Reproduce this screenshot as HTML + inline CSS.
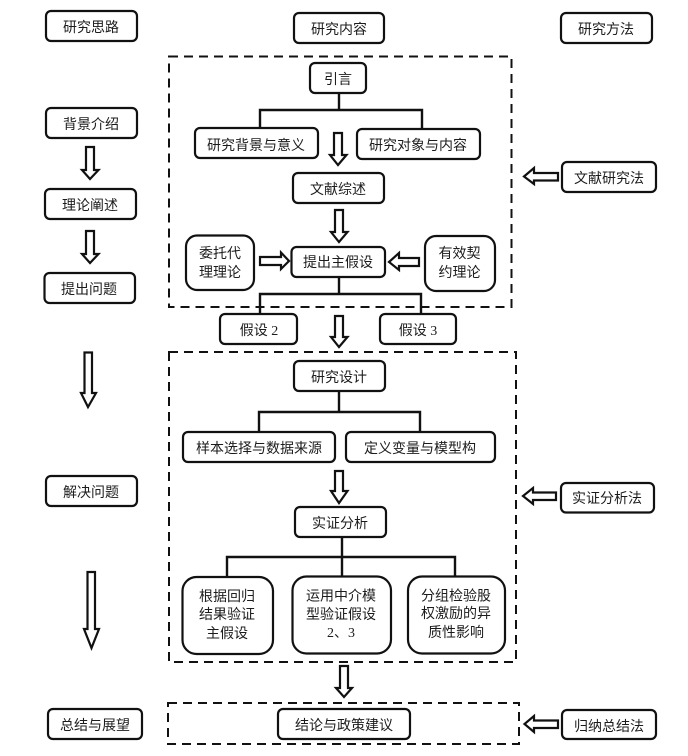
<!DOCTYPE html>
<html lang="zh">
<head>
<meta charset="utf-8">
<title>研究框架</title>
<style>
html,body{margin:0;padding:0;background:#fff;width:688px;height:756px;overflow:hidden}
svg{display:block}
.b rect{fill:#fff;stroke:#111;stroke-width:2.2}
.d rect{fill:none;stroke:#111;stroke-width:2;stroke-dasharray:9 6}
.l path{fill:none;stroke:#111;stroke-width:2.4}
.a polygon{fill:#fff;stroke:#111;stroke-width:2.2;stroke-linejoin:miter}
text{font-family:"Liberation Serif","Noto Sans CJK SC",sans-serif;font-size:14px;font-weight:400;fill:#1c1c1c;text-anchor:middle}
</style>
</head>
<body>
<svg width="688" height="756" viewBox="0 0 688 756" xmlns="http://www.w3.org/2000/svg">
<rect width="688" height="756" fill="#fff"/>
<g class="d">
<rect x="169" y="56.500" width="342.500" height="250.500"/>
<rect x="169" y="352" width="347" height="310"/>
<rect x="168" y="703" width="351" height="41"/>
</g>
<g class="l">
<path d="M339 93V110M260 128V110H422V129"/>
<path d="M339 277V294M260 314V294H421V314"/>
<path d="M339 391V412M259 432V412H420V432"/>
<path d="M342 537V577M227 577V557H455V577"/>
</g>
<g class="b">
<rect x="46" y="11" width="91" height="30" rx="5"/>
<rect x="46" y="108" width="91" height="30" rx="5"/>
<rect x="45" y="189" width="91" height="30" rx="5"/>
<rect x="44.500" y="273" width="90.500" height="30" rx="5"/>
<rect x="46" y="476" width="91" height="30" rx="5"/>
<rect x="48" y="709" width="94" height="30" rx="5"/>
<rect x="294" y="13" width="90" height="30" rx="5"/>
<rect x="310" y="63" width="56" height="30" rx="5"/>
<rect x="195" y="128" width="123" height="30" rx="5"/>
<rect x="357" y="129" width="123" height="30" rx="5"/>
<rect x="293" y="173" width="91" height="30" rx="5"/>
<rect x="291.500" y="247" width="93.500" height="30" rx="5"/>
<rect x="186" y="235.500" width="68" height="54.500" rx="11"/>
<rect x="425" y="236" width="70" height="55" rx="11"/>
<rect x="220" y="314" width="77" height="30" rx="5"/>
<rect x="380" y="314" width="76" height="30" rx="5"/>
<rect x="561" y="13" width="91" height="30" rx="5"/>
<rect x="562" y="162" width="94" height="30" rx="5"/>
<rect x="561" y="483" width="93" height="29.500" rx="5"/>
<rect x="562" y="710" width="94" height="29" rx="5"/>
<rect x="294" y="361" width="91" height="30" rx="5"/>
<rect x="183" y="432" width="152" height="30" rx="5"/>
<rect x="346" y="432" width="149" height="30" rx="5"/>
<rect x="295" y="507" width="91" height="30" rx="5"/>
<rect x="182.500" y="577" width="90.500" height="77" rx="14"/>
<rect x="292.500" y="576.500" width="98.500" height="77" rx="14"/>
<rect x="408" y="576.500" width="97" height="77" rx="14"/>
<rect x="278" y="709" width="132" height="30" rx="5"/>
</g>
<g class="a">
<polygon points="86,147 94,147 94,170 98.500,170 90,179 82,170 86,170"/>
<polygon points="86,231 94,231 94,254 98.500,254 90,263 82,254 86,254"/>
<polygon points="84.500,352.500 92,352.500 92,393 96,393 88,407 81,393 84.500,393"/>
<polygon points="87.500,572 95,572 95,629 99,629 91.500,648 84,629 87.500,629"/>
<polygon points="334,133 342,133 342,155 346.500,155 338,165 330,155 334,155"/>
<polygon points="335,210 343,210 343,232 347.500,232 339,242 331,232 335,232"/>
<polygon points="335,316 343,316 343,337 347.500,337 339,347 331,337 335,337"/>
<polygon points="335,471 343,471 343,491 347.500,491 339,503 331,491 335,491"/>
<polygon points="340,666 348,666 348,688 352,688 344,697 336,688 340,688"/>
<polygon points="260,257 281,257 281,252.500 289,261 281,269 281,265 260,265"/>
<polygon points="419,258 399,258 399,253 389,262 399,270 399,266 419,266"/>
<polygon points="558,173 534,173 534,168 524,176.500 534,184 534,180.500 558,180.500"/>
<polygon points="556,492.500 533,492.500 533,488 523,496 533,504 533,500 556,500"/>
<polygon points="558,720.500 534,720.500 534,716 524.500,724 534,732 534,728 558,728"/>
</g>
<g>
<text x="91" y="32">研究思路</text>
<text x="91" y="129">背景介绍</text>
<text x="90" y="210">理论阐述</text>
<text x="89" y="294">提出问题</text>
<text x="91" y="497">解决问题</text>
<text x="95" y="730">总结与展望</text>
<text x="339" y="34">研究内容</text>
<text x="338" y="84">引言</text>
<text x="256" y="150">研究背景与意义</text>
<text x="418" y="150">研究对象与内容</text>
<text x="338" y="194">文献综述</text>
<text x="338" y="267">提出主假设</text>
<text x="220" y="258">委托代</text>
<text x="220" y="277">理理论</text>
<text x="459.500" y="258">有效契</text>
<text x="459.500" y="277">约理论</text>
<text x="259" y="335">假设 2</text>
<text x="418" y="335">假设 3</text>
<text x="606" y="34">研究方法</text>
<text x="609" y="183">文献研究法</text>
<text x="607" y="503">实证分析法</text>
<text x="609" y="731">归纳总结法</text>
<text x="339" y="382">研究设计</text>
<text x="259" y="453">样本选择与数据来源</text>
<text x="420" y="453">定义变量与模型构</text>
<text x="340" y="528">实证分析</text>
<text x="227" y="601">根据回归</text>
<text x="227" y="619">结果验证</text>
<text x="227" y="638">主假设</text>
<text x="341" y="600.500">运用中介模</text>
<text x="341" y="619">型验证假设</text>
<text x="341" y="637">2、3</text>
<text x="456" y="600.500">分组检验股</text>
<text x="456" y="618">权激励的异</text>
<text x="456" y="637">质性影响</text>
<text x="344" y="730">结论与政策建议</text>
</g>
</svg>
</body>
</html>
